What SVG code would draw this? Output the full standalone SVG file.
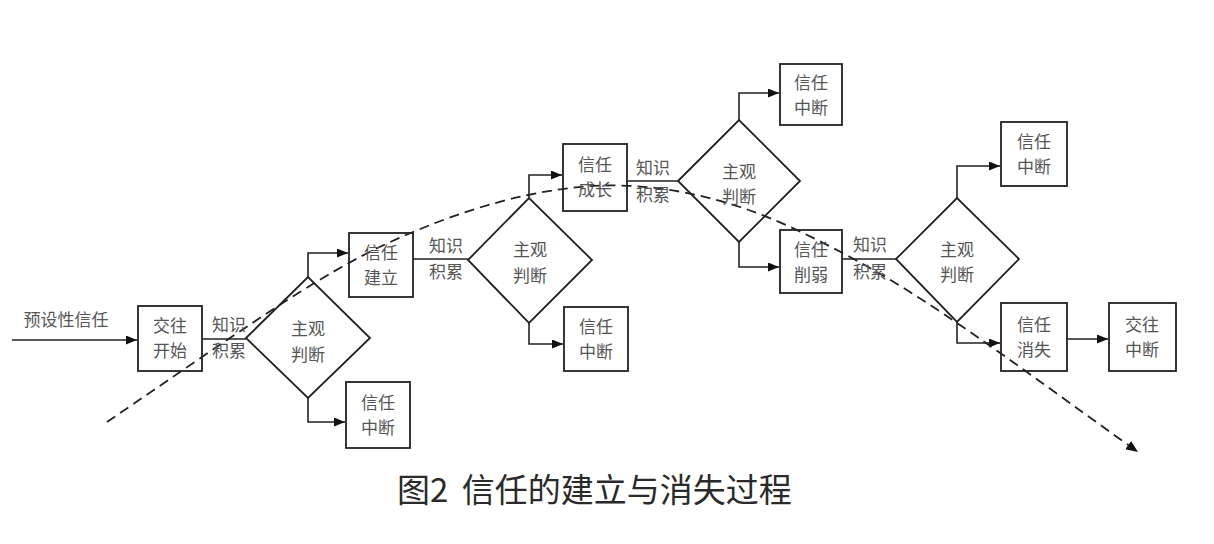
<svg xmlns="http://www.w3.org/2000/svg" width="1214" height="544" viewBox="0 0 1214 544">
<defs>
<style>
.box{fill:none;stroke:#222;stroke-width:1.8}
.dia{fill:none;stroke:#222;stroke-width:1.8}
.ln{fill:none;stroke:#222;stroke-width:1.6}
.arr{marker-end:url(#ah)}
.dash{fill:none;stroke:#222;stroke-width:1.8;stroke-dasharray:10 6;marker-end:url(#ah2)}
.t{font-family:"Liberation Sans","Noto Sans CJK SC",sans-serif;font-size:17px;fill:#555;text-anchor:middle}
.cap{font-family:"Noto Sans CJK SC","Liberation Sans",sans-serif;font-size:33px;fill:#2a2a2a}
</style>
<marker id="ah" markerUnits="userSpaceOnUse" markerWidth="12" markerHeight="10" refX="11" refY="4.5" orient="auto"><path d="M0,0 L11,4.5 L0,9 z" fill="#111"/></marker>
<marker id="ah2" markerUnits="userSpaceOnUse" markerWidth="14" markerHeight="12" refX="12" refY="5" orient="auto"><path d="M0,0 L12,5 L0,10 z" fill="#111"/></marker>
</defs>
<rect width="1214" height="544" fill="#fff"/>

<g id="connectors">
<path class="ln arr" d="M12,340 H137"/>
<path class="ln" d="M202,339 H246"/>
<path class="ln arr" d="M308,277 V253 H348"/>
<path class="ln arr" d="M308,398 V422 H345"/>
<path class="ln" d="M413,259 H468"/>
<path class="ln arr" d="M529,198 V175 H562"/>
<path class="ln arr" d="M529,323 V344 H563"/>
<path class="ln" d="M627,181 H678"/>
<path class="ln arr" d="M739,120 V93 H779"/>
<path class="ln arr" d="M739,242 V267 H779"/>
<path class="ln" d="M842,259 H896"/>
<path class="ln arr" d="M957,198 V166 H1000"/>
<path class="ln arr" d="M957,322 V343 H1000"/>
<path class="ln arr" d="M1067,339 H1108"/>
<path class="dash" d="M107,422 C139.2,400.3 249,323.7 300,292 C351,260.3 375,248.2 413,232 C451,215.8 491.3,202.7 528,195 C564.7,187.3 597.7,184 633,186 C668.3,188 703.8,195.2 740,207 C776.2,218.8 813.3,237.3 850,257 C886.7,276.7 912.3,292.7 960,325 C1007.7,357.3 1106.7,430 1138,452"/>
</g>

<text class="t" x="66" y="326">预设性信任</text>

<g id="n-start"><rect class="box" x="138" y="306" width="64" height="65"/><text class="t" x="170" y="332">交往</text><text class="t" x="170" y="357">开始</text></g>
<g id="l1"><text class="t" x="229" y="331">知识</text><text class="t" x="229" y="357">积累</text></g>
<g id="d1"><polygon class="dia" points="246,338 308,277 370,338 308,398"/><text class="t" x="308" y="335">主观</text><text class="t" x="308" y="361">判断</text></g>
<g id="n-build"><rect class="box" x="349" y="233" width="64" height="64"/><text class="t" x="381" y="259">信任</text><text class="t" x="381" y="284">建立</text></g>
<g id="n-break1"><rect class="box" x="346" y="382" width="64" height="66"/><text class="t" x="378" y="409">信任</text><text class="t" x="378" y="434">中断</text></g>
<g id="l2"><text class="t" x="446" y="252">知识</text><text class="t" x="446" y="278">积累</text></g>
<g id="d2"><polygon class="dia" points="468,260 529,198 592,260 529,323"/><text class="t" x="530" y="256">主观</text><text class="t" x="530" y="282">判断</text></g>
<g id="n-grow"><rect class="box" x="563" y="144" width="64" height="67"/><text class="t" x="595" y="171">信任</text><text class="t" x="595" y="196">成长</text></g>
<g id="n-break2"><rect class="box" x="564" y="307" width="64" height="64"/><text class="t" x="596" y="333">信任</text><text class="t" x="596" y="358">中断</text></g>
<g id="l3"><text class="t" x="653" y="174">知识</text><text class="t" x="653" y="201">积累</text></g>
<g id="d3"><polygon class="dia" points="678,181 739,120 800,181 739,242"/><text class="t" x="739" y="178">主观</text><text class="t" x="739" y="203">判断</text></g>
<g id="n-break3"><rect class="box" x="780" y="64" width="62" height="61"/><text class="t" x="811" y="89">信任</text><text class="t" x="811" y="114">中断</text></g>
<g id="n-weak"><rect class="box" x="780" y="230" width="62" height="63"/><text class="t" x="811" y="256">信任</text><text class="t" x="811" y="281">削弱</text></g>
<g id="l4"><text class="t" x="870" y="251">知识</text><text class="t" x="870" y="278">积累</text></g>
<g id="d4"><polygon class="dia" points="896,259 957,198 1019,259 957,322"/><text class="t" x="957" y="256">主观</text><text class="t" x="957" y="281">判断</text></g>
<g id="n-break4"><rect class="box" x="1001" y="122" width="66" height="64"/><text class="t" x="1034" y="148">信任</text><text class="t" x="1034" y="173">中断</text></g>
<g id="n-vanish"><rect class="box" x="1001" y="303" width="66" height="68"/><text class="t" x="1034" y="331">信任</text><text class="t" x="1034" y="356">消失</text></g>
<g id="n-end"><rect class="box" x="1109" y="303" width="67" height="68"/><text class="t" x="1142" y="331">交往</text><text class="t" x="1142" y="356">中断</text></g>

<text class="cap" x="397" y="502">图2 <tspan dx="6">信任的建立与消失过程</tspan></text>
</svg>
